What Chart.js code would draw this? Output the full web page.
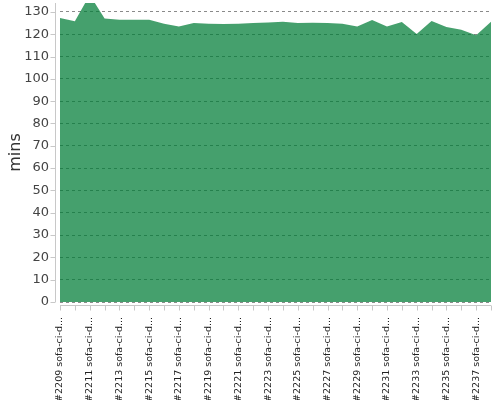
<!DOCTYPE html>
<html>
<head>
<meta charset="utf-8">
<script src="https://cdn.jsdelivr.net/npm/chart.js@4"></script>
<style>
  html, body { margin: 0; padding: 0; background: #fff; }
  #wrap { width: 500px; height: 400px; }
</style>
</head>
<body>
<div id="wrap"><canvas id="buildChart"></canvas></div>
<script>
const builds = [
    '#2209 sofa-ci-d...', '#2210 sofa-ci-d...', '#2211 sofa-ci-d...', '#2212 sofa-ci-d...',
    '#2213 sofa-ci-d...', '#2214 sofa-ci-d...', '#2215 sofa-ci-d...', '#2216 sofa-ci-d...',
    '#2217 sofa-ci-d...', '#2218 sofa-ci-d...', '#2219 sofa-ci-d...', '#2220 sofa-ci-d...',
    '#2221 sofa-ci-d...', '#2222 sofa-ci-d...', '#2223 sofa-ci-d...', '#2224 sofa-ci-d...',
    '#2225 sofa-ci-d...', '#2226 sofa-ci-d...', '#2227 sofa-ci-d...', '#2228 sofa-ci-d...',
    '#2229 sofa-ci-d...', '#2230 sofa-ci-d...', '#2231 sofa-ci-d...', '#2232 sofa-ci-d...',
    '#2233 sofa-ci-d...', '#2234 sofa-ci-d...', '#2235 sofa-ci-d...', '#2236 sofa-ci-d...',
    '#2237 sofa-ci-d...', '#2238 sofa-ci-d...'
];

const durations = [
    127.3, 125.8, 137.6, 127.1, 126.5, 126.5, 126.5, 124.7, 123.5, 125.0,
    124.7, 124.6, 124.7, 125.0, 125.3, 125.6, 125.0, 125.2, 125.0, 124.7,
    123.5, 126.4, 123.5, 125.5, 120.1, 125.9, 123.2, 122.0, 119.6, 125.6
];

const yTicks = [0, 10, 20, 30, 40, 50, 60, 70, 80, 90, 100, 110, 120, 130];

// offset axis lines + tick marks, drawn a few px away from the plot
const offsetAxes = {
    id: 'offsetAxes',
    afterDraw(chart) {
        const ctx = chart.ctx;
        const area = chart.chartArea;
        const x = chart.scales.x;
        const y = chart.scales.y;
        const ax = area.left - 4.5;
        const ay = area.bottom + 3.5;
        ctx.save();
        ctx.strokeStyle = '#c8c8c8';
        ctx.lineWidth = 1;
        ctx.beginPath();
        ctx.moveTo(ax, area.top);
        ctx.lineTo(ax, area.bottom);
        ctx.moveTo(area.left, ay);
        ctx.lineTo(area.right, ay);
        y.ticks.forEach((t, i) => {
            const py = Math.round(y.getPixelForTick(i)) + 0.5;
            ctx.moveTo(ax - 5, py);
            ctx.lineTo(ax, py);
        });
        x.ticks.forEach((t, i) => {
            const px = Math.round(x.getPixelForTick(i)) + 0.5;
            ctx.moveTo(px, ay);
            ctx.lineTo(px, ay + 5);
        });
        ctx.stroke();
        ctx.restore();
    }
};

new Chart(document.getElementById('buildChart'), {
    type: 'line',
    data: {
        labels: builds,
        datasets: [{
            data: durations,
            fill: 'origin',
            // see-through so the grid shows as darker dashes under the area
            backgroundColor: 'rgba(0,125,55,0.73)',
            borderColor: 'rgba(0,125,55,0.73)',
            borderWidth: 0,
            pointRadius: 0,
            tension: 0
        }]
    },
    options: {
        responsive: true,
        maintainAspectRatio: false,
        animation: false,
        layout: { padding: { top: 3, right: 9, left: 0, bottom: 0 } },
        plugins: {
            legend: { display: false },
            tooltip: { enabled: false }
        },
        scales: {
            x: {
                grid: { display: false },
                border: { display: false },
                afterFit: s => {
                    s.height = 98;
                    s.paddingLeft = 0;
                    s.paddingRight = 0;
                },
                ticks: {
                    autoSkip: false,
                    maxRotation: 90,
                    minRotation: 90,
                    padding: 7,
                    color: '#222',
                    font: { family: 'DejaVu Sans', size: 9.5 },
                    callback: function (v, i) {
                        return i % 2 === 0 ? this.getLabelForValue(v) : '';
                    }
                }
            },
            y: {
                min: 0,
                max: 134,
                afterFit: s => {
                    s.width = 60;
                    s.paddingTop = 0;
                    s.paddingBottom = 0;
                },
                afterBuildTicks: s => { s.ticks = yTicks.map(v => ({ value: v })); },
                grid: {
                    color: '#8a8a8a',
                    drawTicks: false
                },
                border: { display: false, dash: [3, 3] },
                ticks: {
                    padding: 11,
                    color: '#444',
                    font: { family: 'DejaVu Sans', size: 13 }
                },
                title: {
                    display: true,
                    text: 'mins',
                    color: '#333',
                    padding: { top: 6, bottom: 0 },
                    font: { family: 'DejaVu Sans', size: 16 }
                }
            }
        }
    },
    plugins: [offsetAxes]
});
</script>
</body>
</html>
